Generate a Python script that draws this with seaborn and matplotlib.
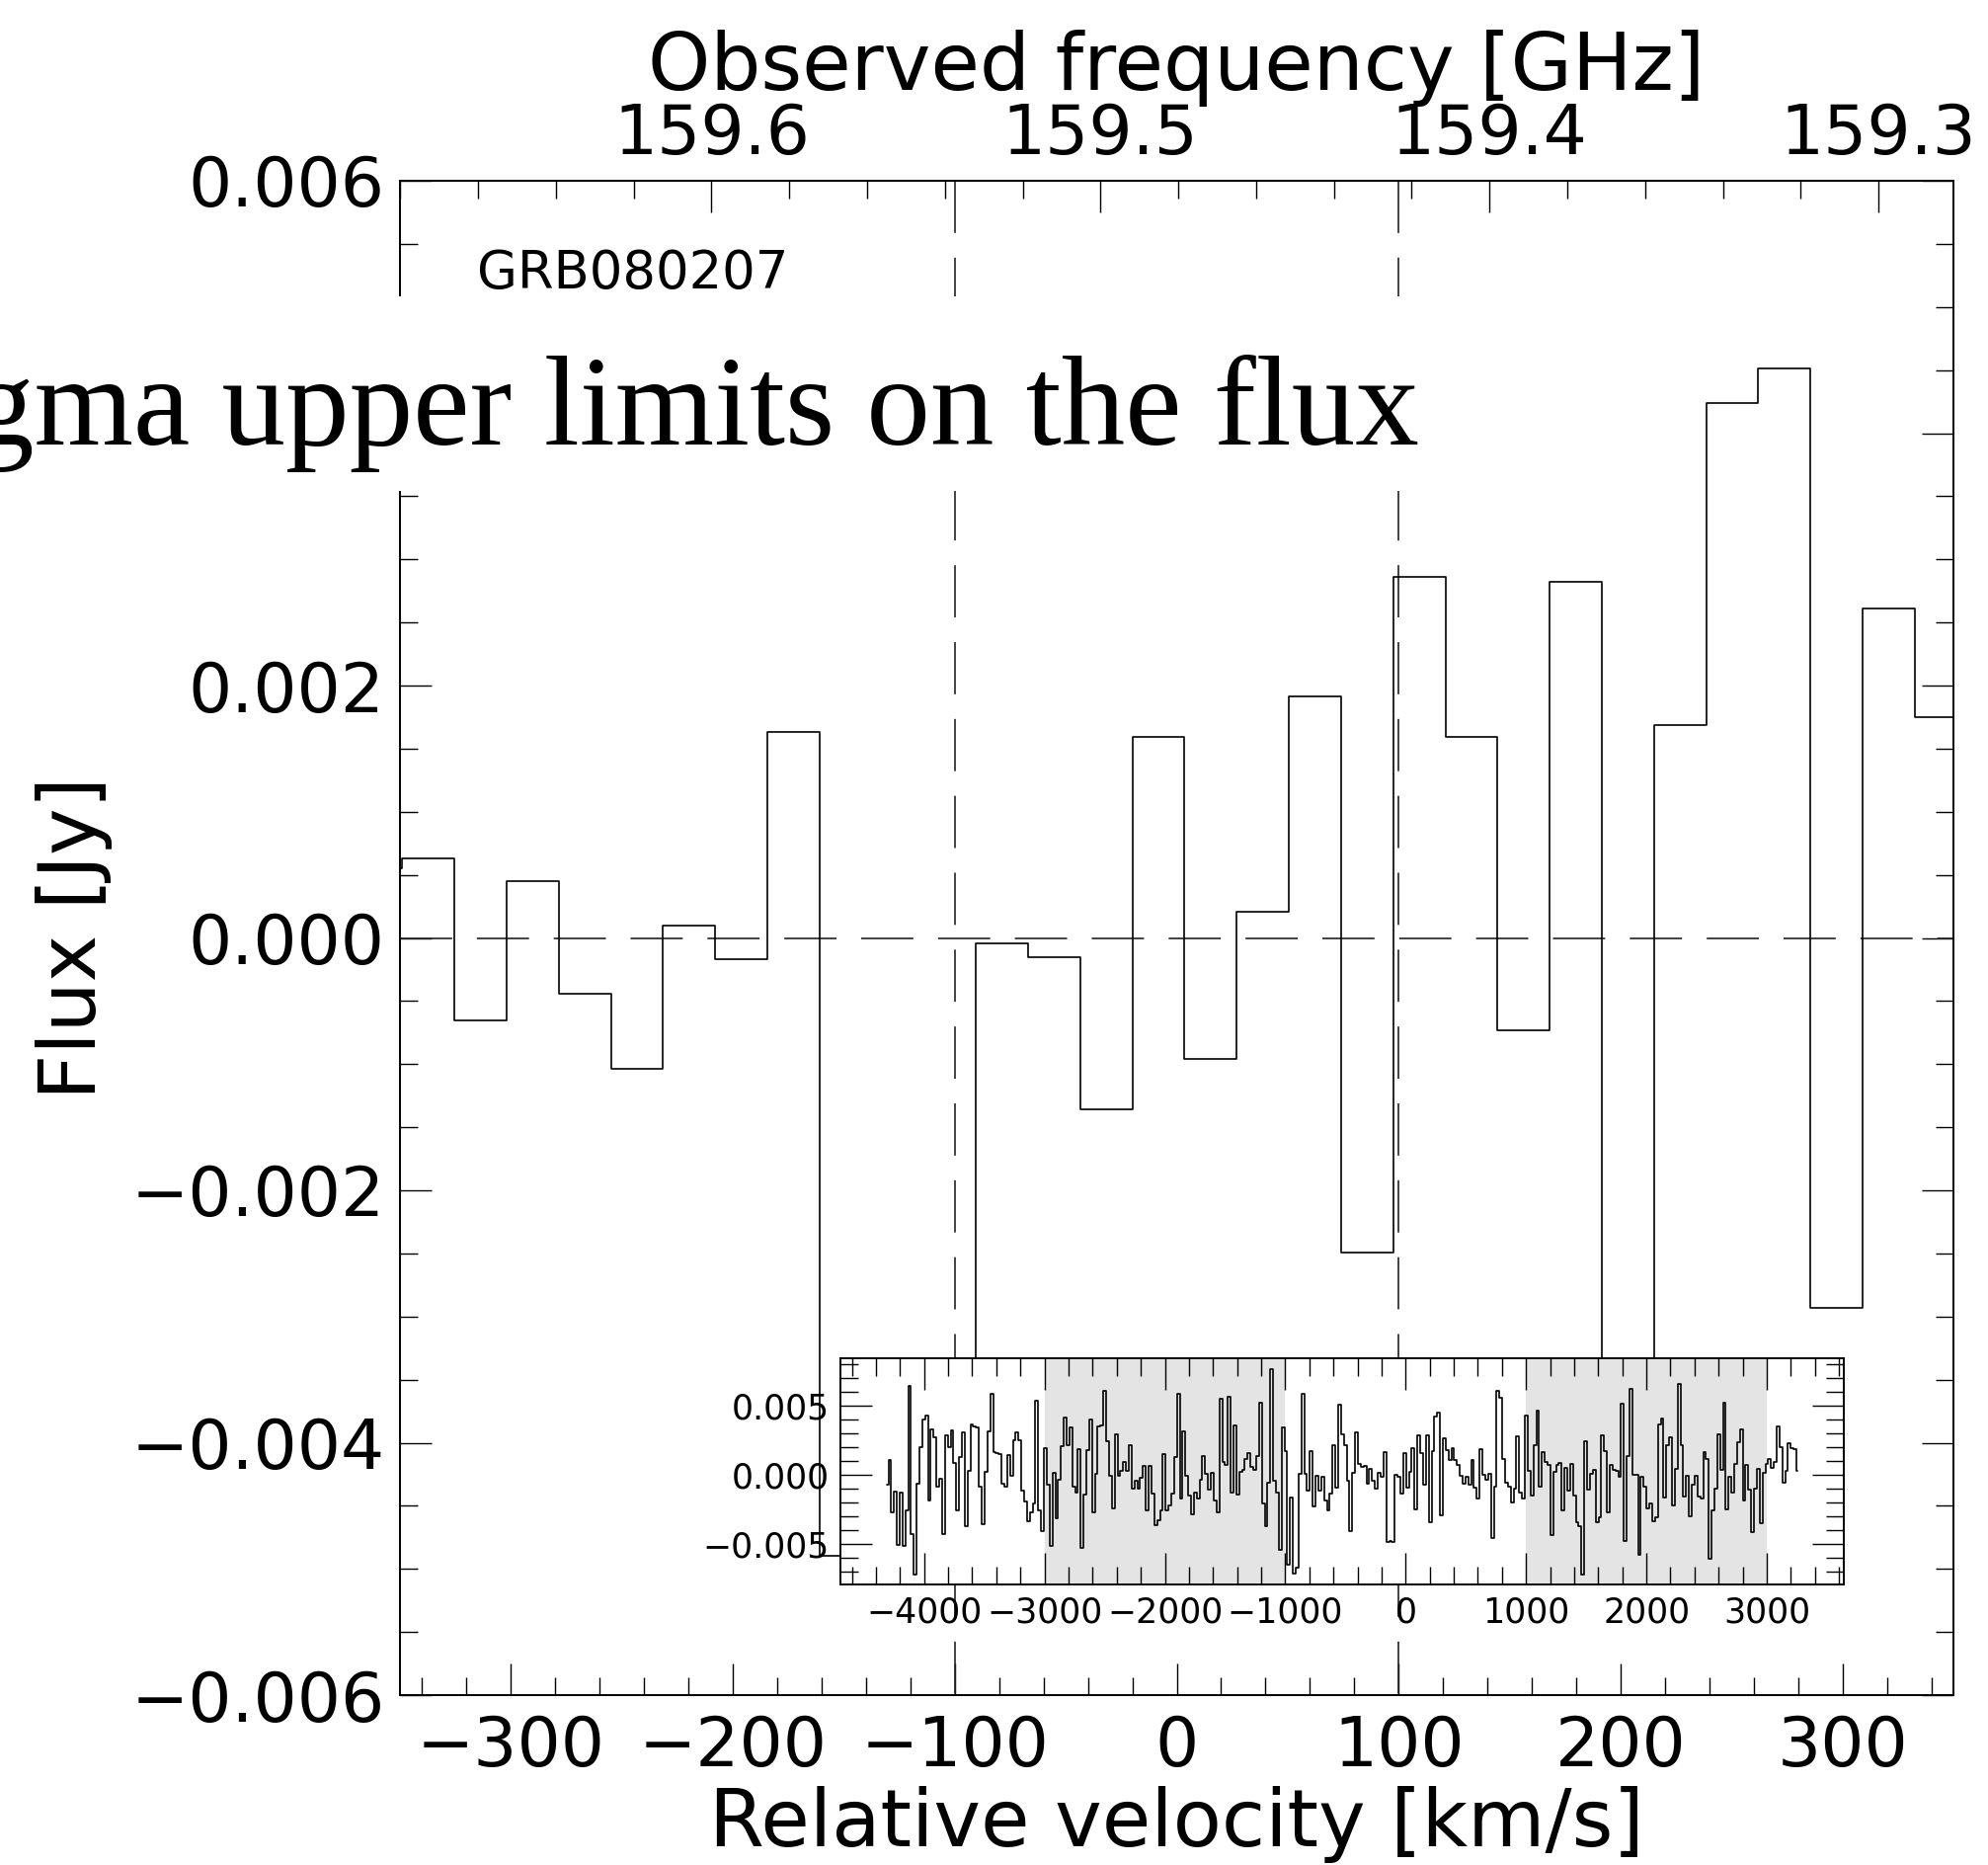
import numpy as np
import matplotlib
matplotlib.use("Agg")
import matplotlib.pyplot as plt
from matplotlib.patches import Rectangle
from matplotlib.ticker import MultipleLocator, FormatStrFormatter
import seaborn as sns

# ---------------- data (flux in mJy, one value per channel) ----------------
CHAN0_KMS = -313.7       # centre of channel k=0
CHAN_WIDTH_KMS = 23.50   # channel width
K_FIRST, K_LAST = -170, 152

flux_part1 = [-0.76, 1.03, -2.72, -1.24, -5.06, -1.29, -5.18, -2.55, 6.40, -4.27,
              -7.23, -0.64, 1.98, 4.01, 4.30, -1.89, 3.29, 2.70, -0.88, -0.29,
              -4.27, 2.86, 1.98, 3.22, 0.84, -2.55, 1.26, 3.10, -3.75, 0.31,
              3.65, 3.53, 3.41, -0.88, -3.58, 0.19, 3.17, 5.87, 1.62, 1.55,
              1.50, -0.64, -0.84, 1.43, -0.05, 2.51, 3.10, 2.46, -1.19, -1.96,
              -3.39]
flux_part2 = [-2.72, -2.08, 5.32, -2.55, -4.06, 1.93, -0.69, -5.18, 0.10, -3.15,
              -0.36, 2.05, 4.11, 2.10, 3.41, -0.88, -1.29, 1.86, -5.30, -1.43,
              1.79, 4.01, -2.72, 0.07, 3.53, 3.60, 6.04, 2.39, -0.10, -2.43,
              2.89, -0.05, 0.31, 0.91, 0.31, 2.10, -1.00, -0.41, -1.00, -0.24,
              0.62, -2.60, 0.60, -1.36, -3.63, -3.27, -2.55, 1.50, -2.55, -2.20,
              -1.36, 1.31, 5.85, -1.72, 3.17, -0.05, -1.53, -2.86, -1.29, -1.72,
              -0.36, 1.38, 0.07, -1.05, 0.12, -1.84, -2.72, 5.49]
flux_part3 = [0.91, 0.74, 5.63, -1.29, 3.58, -1.43, 0.20, 0.38, 1.10, 1.55,
              0.55, 0.36, 1.38, 5.20, -2.08, -3.75, -0.60, 7.64, -0.41, -1.29,
              -5.42, 3.41, 1.69, -6.49, -1.65, -7.16, -6.73, 0.07, 5.87, 0.07,
              -1.19, 1.74, -2.32, -0.05, -1.12, -0.17, -1.89, -2.55, -1.36, 2.17,
              -0.93, 5.08, 2.94, 2.15, -0.41, -4.06, 0.10, 3.10, 0.79, 0.55]
flux_center = [0.63, -0.65, 0.45, -0.44, -1.04, 0.10, -0.17, 1.63, -4.90, -4.80,
               -4.90, -0.04, -0.15, -1.36, 1.59, -0.96, 0.21, 1.91, -2.49, 2.86,
               1.59, -0.73, 2.82, -3.44, 1.69, 4.24, 4.51, -2.93, 2.61, 1.75]
flux_part4 = [1.03, 1.93, 1.03, 0.74, -0.05, -0.64, -0.12, -0.72, 1.03, -0.93,
              -1.72, 1.86, 0.00, -0.36, 0.07, -4.58, -0.88, 6.09, 5.56, 1.10,
              -0.60, -0.88, -2.00, -1.00, 2.75, -1.29, -1.72, 4.30, 0.24, -1.48,
              2.15, 4.61, -0.88, 1.67, 0.91, 0.67, -4.34, 0.19, 0.74, 0.84,
              -2.55, 0.48, -1.12, 0.79, -1.48, -3.44, -3.75, -7.21, 2.41, -1.07,
              0.07, 0.38, -3.44]
flux_part5 = [-3.10, 2.82, 1.69, -2.72, 0.74, 0.36, 0.31, -0.17, 5.16, -4.77,
              1.38, 6.21, 0.02, 0.00, -5.78, -0.12, -0.88, -2.43, -2.08, -3.39,
              -3.08, 3.65, 4.06, -1.65, 2.10, 2.74, -2.24, 0.43, 6.59, 2.15,
              -1.60, -0.10, -3.03, -0.72, -0.05, -1.55, -1.72, 1.62, 1.15, -6.09,
              -2.55, -1.00, 2.89, 0.38, 5.20, -2.51, -0.17, -1.29, 0.79, 2.34,
              3.29, -1.89, 0.74, -1.07, -4.18, -1.00, 0.43, -3.51, 0.12, 0.79,
              1.15, 0.50, 0.91, 3.53, 1.98, -0.60, 0.31, 2.29, 1.91, 1.86,
              0.26]

shaded_windows = [(-3000, -1000), (1000, 3000)]
line_markers_kms = [-100, 100]
source_name = "GRB080207"
overlay_text = "gma upper limits on the flux"

NU_AT_ZERO = 159.4804
GHZ_PER_KMS = 0.0005705

flux_mjy = np.array(flux_part1 + flux_part2 + flux_part3 + flux_center
                    + flux_part4 + flux_part5)
velocity = CHAN0_KMS + CHAN_WIDTH_KMS * np.arange(K_FIRST, K_LAST + 1)
flux = flux_mjy * 1e-3

# ---------------- style ----------------
sns.set_theme(style="ticks")
plt.rcParams["font.family"] = ["DejaVu Sans"]
plt.rcParams["axes.edgecolor"] = "black"
plt.rcParams["axes.linewidth"] = 1.4
plt.rcParams["xtick.color"] = "black"
plt.rcParams["ytick.color"] = "black"
plt.rcParams["text.color"] = "black"
plt.rcParams["axes.labelcolor"] = "black"

W, H = 2013, 1888
fig = plt.figure(figsize=(W / 100, H / 100), dpi=100)
fig.patch.set_facecolor("white")

# main axes
L, R, T, B = 405, 1978, 183, 1716
ax = fig.add_axes([L / W, 1 - B / H, (R - L) / W, (B - T) / H])
ax.set_facecolor("white")

sns.lineplot(x=velocity, y=flux, ax=ax, drawstyle="steps-mid", color="black",
             linewidth=1.2, estimator=None, sort=False, legend=False)

ax.set_xlim(-350, 350)
ax.set_ylim(-0.006, 0.006)
dash = (0, (31.7, 15))
ax.axhline(0.0, color="#222222", lw=1.2, ls=dash, zorder=1)
for xv in line_markers_kms:
    ax.plot([xv, xv], [1, 0], transform=ax.get_xaxis_transform(),
            color="#222222", lw=1.2, ls=dash, zorder=1)

ax.xaxis.set_major_locator(MultipleLocator(100))
ax.xaxis.set_minor_locator(MultipleLocator(20))
ax.yaxis.set_major_locator(MultipleLocator(0.002))
ax.yaxis.set_minor_locator(MultipleLocator(0.0005))
ax.tick_params(which="both", direction="in", top=False, right=True,
               width=1.0, color="black")
ax.tick_params(which="major", length=23)
ax.tick_params(which="minor", length=13)
ax.tick_params(axis="x", which="major", labelsize=50, pad=14)
ax.tick_params(axis="y", which="major", labelsize=50, pad=11)

ax.set_xlabel("Relative velocity [km/s]", fontsize=58, labelpad=4)
ax.set_ylabel("Flux [Jy]", fontsize=58, labelpad=13)

secax = ax.secondary_xaxis(
    "top",
    functions=(lambda v: NU_AT_ZERO - v * GHZ_PER_KMS,
               lambda nu: (NU_AT_ZERO - nu) / GHZ_PER_KMS))
secax.xaxis.set_major_locator(MultipleLocator(0.1))
secax.xaxis.set_minor_locator(MultipleLocator(0.02))
secax.xaxis.set_major_formatter(FormatStrFormatter("%.1f"))
secax.tick_params(which="both", direction="in", width=1.0, color="black")
secax.tick_params(which="major", length=23, labelsize=50, pad=9)
secax.tick_params(which="minor", length=13)
secax.spines["top"].set_linewidth(1.4)
secax.set_xlabel("Observed frequency [GHz]", fontsize=58, labelpad=9)

ax.text((483 - L) / (R - L), (B - 292) / (B - T), source_name,
        transform=ax.transAxes, fontsize=38, ha="left", va="baseline")

# inset with the full spectrum
iL, iR, iT, iB = 851, 1867, 1375, 1604
axin = fig.add_axes([iL / W, 1 - iB / H, (iR - iL) / W, (iB - iT) / H])
axin.set_facecolor("white")
for lo, hi in shaded_windows:
    axin.axvspan(lo, hi, color="#e4e4e4", lw=0, zorder=0)
sns.lineplot(x=velocity, y=flux, ax=axin, drawstyle="steps-mid", color="black",
             linewidth=1.2, estimator=None, sort=False, legend=False)
axin.set_xlim(-4695, 3640)
axin.set_ylim(-0.00795, 0.00843)
axin.xaxis.set_major_locator(MultipleLocator(1000))
axin.xaxis.set_minor_locator(MultipleLocator(200))
axin.yaxis.set_major_locator(MultipleLocator(0.005))
axin.yaxis.set_minor_locator(MultipleLocator(0.001))
axin.tick_params(which="both", direction="in", top=True, right=True,
                 width=1.0, color="black", labelsize=25)
axin.tick_params(which="major", length=23)
axin.tick_params(which="minor", length=13)
axin.tick_params(axis="x", pad=8)
axin.tick_params(axis="y", pad=8)
axin.set_xlabel("")
axin.set_ylabel("")
for sp in axin.spines.values():
    sp.set_linewidth(1.4)

# overlay band with large serif text
band = Rectangle((0, 1 - 497 / H), 1448 / W, (497 - 300) / H,
                 transform=fig.transFigure, facecolor="white",
                 edgecolor="none", zorder=15)
fig.add_artist(band)
fig.text(1437 / W, 1 - 450 / H, overlay_text, ha="right", va="baseline",
         fontsize=93, family=["Liberation Serif", "DejaVu Serif"], zorder=16)

fig.savefig("out.png", dpi=100, facecolor="white")
